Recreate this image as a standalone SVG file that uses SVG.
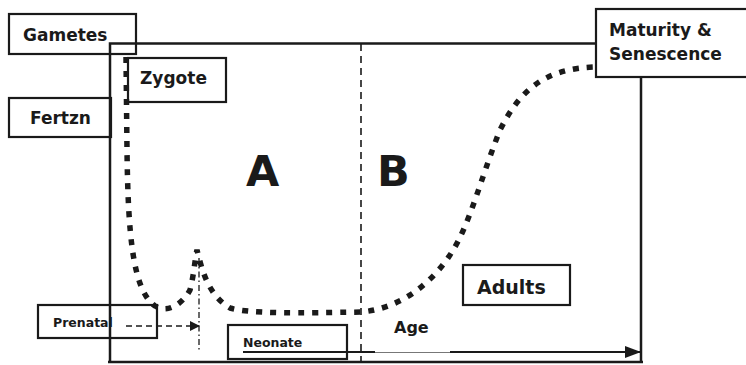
<svg xmlns="http://www.w3.org/2000/svg" width="746" height="365" viewBox="0 0 746 365">
<style>
.box{fill:#fff;stroke:#1a1a1a;stroke-width:2.2}
.lbl{font-family:"DejaVu Sans",sans-serif;font-weight:bold;fill:#1a1a1a}
.frame{fill:none;stroke:#1a1a1a;stroke-width:2.5}
</style>
<defs>
<marker id="tri" markerWidth="10" markerHeight="10" refX="9" refY="5" orient="auto" markerUnits="userSpaceOnUse">
<path d="M0,0 L10,5 L0,10 Z" fill="#1a1a1a"/>
</marker>
<marker id="tri2" markerWidth="16" markerHeight="12" refX="15" refY="6" orient="auto" markerUnits="userSpaceOnUse">
<path d="M0,0 L16,6 L0,12 Z" fill="#1a1a1a"/>
</marker>
</defs>
<rect width="746" height="365" fill="#fff"/>
<g id="gametes"><rect class="box" x="9" y="14" width="127" height="40"/><text class="lbl" x="23" y="41" font-size="17">Gametes</text></g>
<g id="fertzn"><rect class="box" x="9" y="98" width="102" height="39"/><text class="lbl" x="30" y="124" font-size="17">Fertzn</text></g>
<g id="prenatal"><rect class="box" x="38" y="305" width="119" height="33"/><text class="lbl" x="53" y="327" font-size="12.5">Prenatal</text></g>
<g id="neonate"><rect class="box" x="228" y="325" width="119" height="34"/><text class="lbl" x="243" y="347" font-size="12.5">Neonate</text></g>
<g id="zygote"><rect class="box" x="128" y="58" width="98" height="44"/><text class="lbl" x="140" y="84" font-size="17">Zygote</text></g>
<g id="adults"><rect class="box" x="463" y="265" width="107" height="40"/><text class="lbl" x="477" y="294" font-size="19">Adults</text></g>
<g id="maturity"><rect class="box" x="596" y="9" width="160" height="68"/><text class="lbl" x="609" y="36" font-size="17">Maturity &amp;</text><text class="lbl" x="609" y="60" font-size="17">Senescence</text></g>
<g id="connectors">
<path class="frame" d="M110,362 V43.5 H596 M641,77 V362 M108,362 H643"/>
<line x1="361" y1="44" x2="361" y2="362" stroke="#1a1a1a" stroke-width="1.6" stroke-dasharray="7 5"/>
<line x1="199" y1="258" x2="199" y2="352" stroke="#1a1a1a" stroke-width="1.3" stroke-dasharray="6 3 1.5 3"/>
<line x1="126" y1="326" x2="199" y2="326" stroke="#1a1a1a" stroke-width="1.6" stroke-dasharray="6 4" marker-end="url(#tri)"/>
<line x1="243" y1="352" x2="375" y2="352" stroke="#1a1a1a" stroke-width="2"/>
<line x1="375" y1="352.5" x2="450" y2="352.5" stroke="#777" stroke-width="1"/>
<line x1="450" y1="352" x2="640" y2="352" stroke="#1a1a1a" stroke-width="2.2" marker-end="url(#tri2)"/>
<path d="M126,57 L127,150 C128,230 132,290 155,306 C170,315 185,300 190,290 C194,275 195,258 197,250 C202,270 208,295 230,308 C250,314 300,313 362,312 C400,308 430,285 450,255 C470,225 480,180 500,130 C520,90 545,68 596,67" fill="none" stroke="#1a1a1a" stroke-width="5.5" stroke-dasharray="6 8"/>
</g>
<text class="lbl" x="246" y="186" font-size="43">A</text>
<text class="lbl" x="377" y="186" font-size="43">B</text>
<text class="lbl" x="394" y="333" font-size="16">Age</text>
</svg>
